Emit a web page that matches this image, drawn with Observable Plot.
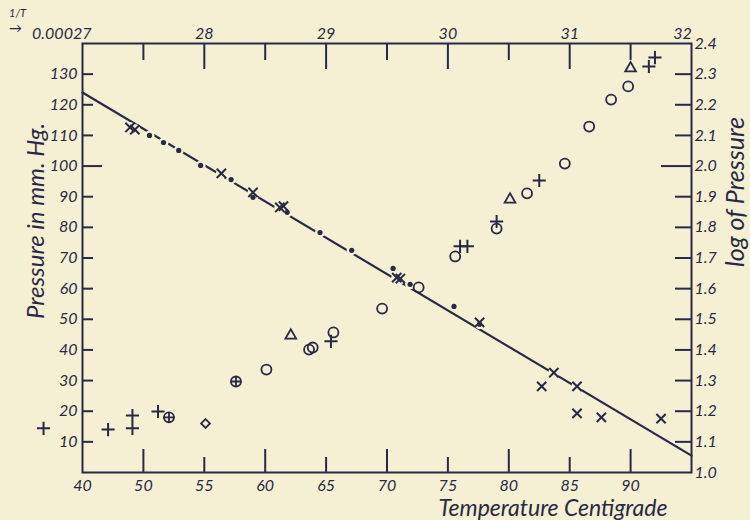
<!DOCTYPE html>
<html><head><meta charset="utf-8">
<script src="https://cdn.jsdelivr.net/npm/d3@7"></script>
<script src="https://cdn.jsdelivr.net/npm/@observablehq/plot@0.6"></script>
<style>
html,body{margin:0;padding:0;background:#f5efd3;}
</style></head><body><div id="chart"></div>
<script>
// ---------- axis ticks & labels ----------
const tempTicks = [45, 50, 55, 60, 65, 70, 75, 80, 85, 90];
const tempTickLabels = ["40", "50", "55", "60", "65", "70", "75", "80", "85", "90"];
const tempLongTicks = [50, 60, 70, 80, 90];
const tempShortTicks = [55, 65, 75, 85];

const pressTicks = [10, 20, 30, 40, 50, 60, 70, 80, 90, 100, 110, 120, 130];
const pressLongTicks = [100];

const invTTicksMajor = [28, 29, 30, 31];
const invTTicksMinor = [27.5, 28.5, 29.5, 30.5, 31.5];
const invTTickLabels = ["28", "29", "30", "31"];
const invTFirstLabel = "0.00027";
const invTLastLabel = "32";
const invTFirst = 27, invTLast = 32;

const logTicks = [1.1, 1.2, 1.3, 1.4, 1.5, 1.6, 1.7, 1.8, 1.9, 2.0, 2.1, 2.2, 2.3];
const logLongTicks = [2.0];
const logLabelValues = [1.0, 1.1, 1.2, 1.3, 1.4, 1.5, 1.6, 1.7, 1.8, 1.9, 2.0, 2.1, 2.2, 2.3, 2.4];
const logLabels = ["1.0", "1.1", "1.2", "1.3", "1.4", "1.5", "1.6", "1.7", "1.8", "1.9", "2.0", "2.1", "2.2", "2.3", "2.4"];

// ---------- log P vs 1/T series (1/T in units of 1e-5) ----------
const lineInvT = [27.0, 32.0];
const lineLogP = [2.240, 1.055];
const dotInvT = [27.55, 27.665, 27.79, 27.97, 28.22, 28.40, 28.68, 28.95, 29.21, 29.55, 29.69, 30.05, 30.26];
const dotLogP = [2.100, 2.077, 2.051, 2.002, 1.956, 1.898, 1.849, 1.783, 1.725, 1.666, 1.614, 1.542, 1.484];
const crossInvT = [27.39, 27.43, 28.14, 28.40, 28.62, 28.65, 29.58, 29.61, 30.26, 30.87, 30.77, 31.06, 31.06, 31.26, 31.75];
const crossLogP = [2.126, 2.119, 1.976, 1.914, 1.865, 1.869, 1.636, 1.633, 1.490, 1.326, 1.281, 1.281, 1.193, 1.180, 1.176];

// ---------- pressure vs temperature series ----------
const plusT = [41.8, 47.1, 49.1, 49.1, 51.2, 65.4, 76.0, 76.6, 79.0, 82.5, 91.5, 92.0];
const plusP = [14.4, 14.0, 18.6, 14.4, 19.9, 42.8, 73.8, 73.8, 81.9, 95.3, 132.5, 135.4];
const circlePlusT = [52.1, 57.6];
const circlePlusP = [18.0, 29.7];
const circleT = [60.1, 63.6, 63.9, 65.6, 69.6, 72.6, 75.6, 79.0, 81.5, 84.6, 86.6, 88.4, 89.8];
const circleP = [33.6, 40.1, 40.8, 45.7, 53.5, 60.4, 70.5, 79.6, 91.1, 100.8, 112.9, 121.7, 126.0];
const triangleT = [62.1, 80.1, 90.0];
const triangleP = [44.7, 89.1, 131.9];
const diamondT = [55.1];
const diamondP = [16.0];

// ---------- layout ----------
const W = 750, H = 520;
const mL = 82, mR = 59, mT = 43, mB = 48;
const plotW = W - mL - mR, plotH = H - mT - mB;
const ink = "#272a44";
const bg = "#f5efd3";
const FONT = "Lato, 'Open Sans', sans-serif";

// secondary axes share the frame: 1/T 27..32 spans temperature 45..95, log P 1.0..2.4 spans pressure 0..140
const toTemp = v => 45 + (v - invTFirst) * 10;
const toP = L => (L - 1) * 100;

const zip = (a, b) => a.map((v, i) => ({u: v, v: b[i]}));
const lineData = zip(lineInvT, lineLogP);
const dotData = zip(dotInvT, dotLogP);
const crossData = zip(crossInvT, crossLogP);
const sx = d => toTemp(d.u), sy = d => toP(d.v);
const px = d => d.u, py = d => d.v;

const T = {fill: ink, lineAnchor: "middle"};

const plot = Plot.plot({
  width: W, height: H,
  marginLeft: mL, marginRight: mR, marginTop: mT, marginBottom: mB,
  x: {domain: [45, 95], axis: null},
  y: {domain: [0, 140], axis: null},
  style: {background: bg, fontFamily: FONT, fontStyle: "italic", fontSize: "16px", color: ink, overflow: "visible"},
  marks: [
    Plot.frame({stroke: ink, strokeWidth: 2}),
    // bottom inward ticks
    Plot.tickX(tempLongTicks, {x: d => d, insetTop: plotH - 23, stroke: ink, strokeWidth: 2}),
    Plot.tickX(tempShortTicks, {x: d => d, insetTop: plotH - 15, stroke: ink, strokeWidth: 2}),
    // top inward ticks (1/T)
    Plot.tickX(invTTicksMajor, {x: toTemp, insetBottom: plotH - 26, stroke: ink, strokeWidth: 2}),
    Plot.tickX(invTTicksMinor, {x: toTemp, insetBottom: plotH - 17, stroke: ink, strokeWidth: 2}),
    // left inward ticks
    Plot.tickY(pressTicks.filter(d => !pressLongTicks.includes(d)), {y: d => d, insetRight: plotW - 11, stroke: ink, strokeWidth: 2}),
    Plot.tickY(pressLongTicks, {y: d => d, insetRight: plotW - 20, stroke: ink, strokeWidth: 2}),
    // right inward ticks (log P)
    Plot.tickY(logTicks.filter(d => !logLongTicks.includes(d)), {y: toP, insetLeft: plotW - 16, stroke: ink, strokeWidth: 2}),
    Plot.tickY(logLongTicks, {y: toP, insetLeft: plotW - 30, stroke: ink, strokeWidth: 2}),

    // tick labels
    Plot.text(tempTicks, {...T, x: d => d, text: (d, i) => tempTickLabels[i], frameAnchor: "bottom", textAnchor: "middle", dy: 13, fontSize: 16}),
    Plot.text(pressTicks, {...T, y: d => d, text: d => String(d), frameAnchor: "left", textAnchor: "end", dx: -5, fontSize: 16}),
    Plot.text(logLabelValues, {...T, y: toP, text: (d, i) => logLabels[i], frameAnchor: "right", textAnchor: "start", dx: 3, fontSize: 16}),
    Plot.text(invTTicksMajor, {...T, x: toTemp, text: (d, i) => invTTickLabels[i], frameAnchor: "top", textAnchor: "middle", dy: -10, fontSize: 16}),
    Plot.text([invTFirstLabel], {...T, x: () => toTemp(invTFirst), text: d => d, frameAnchor: "top", textAnchor: "end", dx: 9, dy: -10, fontSize: 16}),
    Plot.text([invTLastLabel], {...T, x: () => toTemp(invTLast), text: d => d, frameAnchor: "top", textAnchor: "middle", dx: -9, dy: -10, fontSize: 16}),
    Plot.text(["1/T"], {...T, frameAnchor: "top-left", textAnchor: "middle", text: d => d, dx: -65, dy: -30, fontSize: 11}),
    Plot.text(["\u2192"], {...T, frameAnchor: "top-left", textAnchor: "middle", text: d => d, dx: -67, dy: -15, fontSize: 13, fontStyle: "normal"}),

    // axis titles
    Plot.text(["Pressure in mm. Hg."], {...T, frameAnchor: "left", textAnchor: "middle", text: d => d, rotate: -90, dx: -46, dy: -37, fontSize: 24}),
    Plot.text(["log of Pressure"], {...T, frameAnchor: "right", textAnchor: "middle", text: d => d, rotate: -90, dx: 44, dy: -66, fontSize: 25}),
    Plot.text(["Temperature Centigrade"], {...T, frameAnchor: "bottom", textAnchor: "middle", text: d => d, dx: 166, dy: 36, fontSize: 23}),

    // log P vs 1/T: fitted line, gaps around markers, markers
    Plot.line(lineData, {x: sx, y: sy, stroke: ink, strokeWidth: 2.2}),
    Plot.dot(dotData, {x: sx, y: sy, r: 5, fill: bg}),
    Plot.dot(crossData, {x: sx, y: sy, r: 5.5, fill: bg}),
    Plot.dot(dotData, {x: sx, y: sy, r: 2.6, fill: ink}),
    Plot.dot(crossData, {x: sx, y: sy, r: 4.3, symbol: "times", stroke: ink, strokeWidth: 2}),

    // pressure vs temperature
    Plot.dot(zip(circleT, circleP), {x: px, y: py, r: 5, stroke: ink, strokeWidth: 1.8, fill: "none"}),
    Plot.dot(zip(circlePlusT, circlePlusP), {x: px, y: py, r: 5, stroke: ink, strokeWidth: 1.8, fill: "none"}),
    Plot.dot(zip(circlePlusT, circlePlusP), {x: px, y: py, r: 3.6, symbol: "plus", stroke: ink, strokeWidth: 1.8}),
    Plot.dot(zip(plusT, plusP), {x: px, y: py, r: 4.3, symbol: "plus", stroke: ink, strokeWidth: 2}),
    Plot.dot(zip(triangleT, triangleP), {x: px, y: py, r: 4, symbol: "triangle", stroke: ink, strokeWidth: 1.8, fill: "none"}),
    Plot.dot(zip(diamondT, diamondP), {x: px, y: py, r: 4, symbol: "diamond2", stroke: ink, strokeWidth: 1.8, fill: "none"})
  ]
});
document.getElementById("chart").appendChild(plot);
</script>
</body></html>
